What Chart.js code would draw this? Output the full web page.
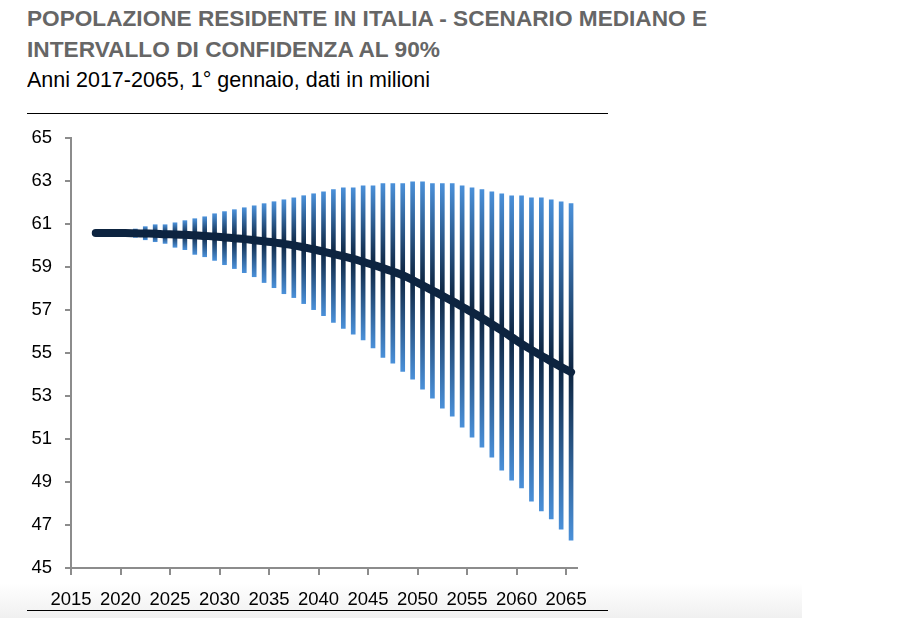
<!DOCTYPE html>
<html>
<head>
<meta charset="utf-8">
<script src="https://cdn.jsdelivr.net/npm/chart.js@4.4.1/dist/chart.umd.min.js"></script>
<style>
  body { margin: 0; background: #fff; width: 898px; height: 618px; overflow: hidden; position: relative; font-family: 'Liberation Sans', Arial, sans-serif; }
  .txt { position: absolute; left: 27px; white-space: nowrap; transform-origin: 0 0; line-height: 1; }
  .title { font-weight: bold; font-size: 22px; color: #666; }
  .sub { font-size: 22px; color: #000; }
  .rule { position: absolute; left: 27px; width: 581px; height: 1px; background: #000; }
  #shade { position: absolute; left: 0; top: 583px; width: 802px; height: 35px; background: linear-gradient(to bottom, #fff, #f0f0f0); }
  #wrap { position: absolute; left: 0; top: 114px; width: 620px; height: 504px; }
</style>
</head>
<body>
<div id="shade"></div>
<div class="txt title" style="top:8px" data-w="680">POPOLAZIONE RESIDENTE IN ITALIA - SCENARIO MEDIANO E</div>
<div class="txt title" style="top:38.5px" data-w="413">INTERVALLO DI CONFIDENZA AL 90%</div>
<div class="txt sub" style="top:69px" data-w="403">Anni 2017-2065, 1° gennaio, dati in milioni</div>
<div class="rule" style="top:113px"></div>
<div class="rule" style="top:610px"></div>
<div id="wrap"><canvas id="chart"></canvas></div>
<script>
//Data (milioni di residenti, 1 gennaio)
const years = [];
for (let y = 2017; y <= 2065; y++) years.push(y);

const median = [60.59, 60.59, 60.58, 60.58, 60.57, 60.56, 60.55, 60.53, 60.52, 60.50,
    60.48, 60.45, 60.42, 60.38, 60.34, 60.30, 60.25, 60.20, 60.15, 60.08,
    60.01, 59.92, 59.82, 59.72, 59.61, 59.50, 59.38, 59.24, 59.10, 58.95,
    58.79, 58.62, 58.40, 58.15, 57.91, 57.67, 57.42, 57.16, 56.90, 56.63,
    56.34, 56.05, 55.74, 55.43, 55.15, 54.88, 54.61, 54.35, 54.11];

const lower = [60.59, 60.54, 60.49, 60.46, 60.38, 60.27, 60.18, 60.10, 59.92, 59.81,
    59.59, 59.48, 59.31, 59.11, 58.93, 58.74, 58.55, 58.28, 58.04, 57.76,
    57.58, 57.30, 57.02, 56.74, 56.43, 56.15, 55.88, 55.61, 55.24, 54.80,
    54.53, 54.15, 53.78, 53.32, 52.90, 52.43, 52.06, 51.55, 51.09, 50.62,
    50.16, 49.55, 49.09, 48.72, 48.11, 47.65, 47.28, 46.81, 46.30];

const upper = [60.59, 60.65, 60.69, 60.69, 60.77, 60.88, 60.97, 60.97, 61.06, 61.16,
    61.25, 61.34, 61.48, 61.58, 61.67, 61.76, 61.85, 61.95, 62.04, 62.13,
    62.22, 62.32, 62.41, 62.50, 62.60, 62.69, 62.69, 62.78, 62.78, 62.88,
    62.88, 62.88, 62.97, 62.97, 62.88, 62.88, 62.88, 62.78, 62.69, 62.60,
    62.50, 62.41, 62.32, 62.32, 62.22, 62.22, 62.13, 62.04, 61.95];

const yTicks = [45, 47, 49, 51, 53, 55, 57, 59, 61, 63, 65];
const xTickYears = [2015, 2020, 2025, 2030, 2035, 2040, 2045, 2050, 2055, 2060, 2065];

const LIGHT = '#4a90d9';
const DARK = '#0d2440';
const AXIS = '#8c8c8c';
const FONT = "'Liberation Sans', Arial, sans-serif";

// squeeze the heading lines to the narrow look of the original
document.querySelectorAll('.txt').forEach(function (el) {
    let w = el.getBoundingClientRect().width;
    el.style.transform = 'scaleX(' + (el.dataset.w / w) + ')';
});

function barGradient(ctx) {
    if (ctx.type !== 'data') return LIGHT;
    let chart = ctx.chart;
    let ys = chart.scales.y;
    if (!ys) return LIGHT;
    let i = ctx.dataIndex;
    let top = ys.getPixelForValue(upper[i]);
    let bot = ys.getPixelForValue(lower[i]);
    if (!isFinite(top) || !isFinite(bot) || bot - top < 1) return LIGHT;
    let mid = ys.getPixelForValue(median[i]);
    let stop = Math.min(Math.max((mid - top) / (bot - top), 0), 1);
    let g = chart.ctx.createLinearGradient(0, top, 0, bot);
    g.addColorStop(0, LIGHT);
    g.addColorStop(stop, DARK);
    g.addColorStop(1, LIGHT);
    return g;
}

let popChart = new Chart(document.getElementById('chart').getContext('2d'), {
    type: 'bar',
    data: {
        datasets: [{
            type: 'line',
            data: years.map((y, i) => ({x: y, y: median[i]})),
            borderColor: DARK,
            borderWidth: 8,
            borderCapStyle: 'round',
            borderJoinStyle: 'round',
            pointRadius: 0,
            tension: 0.4,
            order: 0
        }, {
            type: 'bar',
            data: years.map((y, i) => ({x: y, y: [lower[i], upper[i]]})),
            backgroundColor: barGradient,
            borderWidth: 0,
            barThickness: 4,
            order: 1
        }]
    },
    options: {
        responsive: true,
        maintainAspectRatio: false,
        animation: false,
        layout: { padding: { top: 17, right: 43, left: 0, bottom: 0 } },
        plugins: { legend: { display: false }, tooltip: { enabled: false } },
        scales: {
            x: {
                type: 'linear',
                offset: false,
                min: 2014.5,
                max: 2065.6,
                afterBuildTicks: (axis) => {
                    // ticks sit at the start of each year slot
                    axis.ticks = xTickYears.map(v => ({value: v - 0.5}));
                },
                afterFit: (axis) => { axis.height = 50; },
                grid: { drawOnChartArea: false, offset: false, color: AXIS, lineWidth: 2, tickLength: 7 },
                border: { color: AXIS, width: 2 },
                ticks: {
                    color: '#000',
                    font: { family: FONT, size: 18.5 },
                    padding: 14,
                    maxRotation: 0,
                    autoSkip: false,
                    callback: (v) => Math.round(v + 0.5)
                }
            },
            y: {
                min: 45,
                max: 65,
                afterBuildTicks: (axis) => {
                    axis.ticks = yTicks.map(v => ({value: v}));
                },
                afterFit: (axis) => { axis.width = 71; },
                grid: { drawOnChartArea: false, color: AXIS, lineWidth: 2, tickLength: 6 },
                border: { color: AXIS, width: 2 },
                ticks: {
                    color: '#000',
                    font: { family: FONT, size: 18.5 },
                    padding: 13
                }
            }
        }
    }
});
</script>
</body>
</html>
